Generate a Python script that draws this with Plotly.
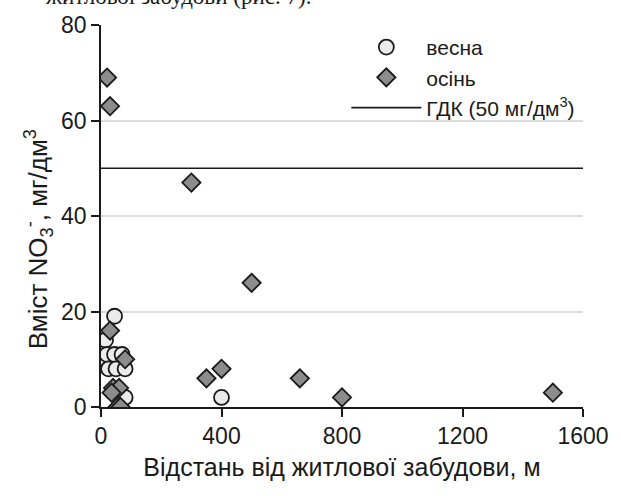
import plotly.graph_objects as go

spring_x = [15, 45, 20, 45, 70, 25, 50, 80, 80, 400]
spring_y = [14, 19, 11, 11, 11, 8, 8, 8, 2, 2]

autumn_x = [20, 30, 30, 80, 40, 60, 35, 55, 65, 300, 350, 400, 500, 660, 800, 1500]
autumn_y = [69, 63, 16, 10, 4, 4, 3, 0, 0, 47, 6, 8, 26, 6, 2, 3]

limit_x = [0, 1600]
limit_y = [50, 50]

x_ticks = [0, 400, 800, 1200, 1600]
y_ticks = [0, 20, 40, 60, 80]

FONT = "Liberation Sans, Arial, sans-serif"

fig = go.Figure()
fig.add_trace(go.Scatter(
    x=limit_x, y=limit_y, mode="lines", name="ГДК (50 мг/дм<sup>3</sup>)",
    line=dict(color="#1a1a1a", width=1.6), legendrank=3))
fig.add_trace(go.Scatter(
    x=spring_x, y=spring_y, mode="markers", name="весна",
    marker=dict(symbol="circle", size=15, color="#ebebeb",
                line=dict(color="#1a1a1a", width=1.8)), legendrank=1))
fig.add_trace(go.Scatter(
    x=autumn_x, y=autumn_y, mode="markers", name="осінь",
    marker=dict(symbol="diamond", size=14, color="#8c8c8c",
                line=dict(color="#1a1a1a", width=1.8)), legendrank=2))

fig.update_layout(
    width=621, height=496,
    margin=dict(l=101, r=35, t=21, b=89),
    paper_bgcolor="white", plot_bgcolor="white",
    font=dict(family=FONT, size=23, color="#1a1a1a"),
    showlegend=True,
    legend=dict(x=0.509, y=0.995, xanchor="left", yanchor="top",
                bgcolor="rgba(0,0,0,0)", font=dict(size=21),
                itemwidth=70, traceorder="normal"),
    xaxis=dict(range=[0, 1600], tickvals=x_ticks, ticks="outside", ticklen=8,
               tickwidth=1.5, tickcolor="#1a1a1a", showline=True,
               linecolor="#1a1a1a", linewidth=1.5, showgrid=False,
               zeroline=False, tickfont=dict(size=23),
               title=dict(text="Відстань від житлової забудови, м",
                          font=dict(size=25), standoff=10)),
    yaxis=dict(range=[0, 80], tickvals=y_ticks, ticks="outside", ticklen=8,
               tickwidth=1.5, tickcolor="#1a1a1a", showline=True,
               linecolor="#1a1a1a", linewidth=1.5, showgrid=True,
               gridcolor="#dcdcdc", gridwidth=2, zeroline=False,
               tickfont=dict(size=23)),
)

fig.add_annotation(
    text="Вміст NO<sub>3</sub><sup>-</sup>, мг/дм<sup>3</sup>",
    xref="paper", yref="paper", x=-0.13, y=0.44,
    xanchor="center", yanchor="middle", textangle=-90, showarrow=False,
    font=dict(family=FONT, size=26, color="#1a1a1a"))

fig.add_annotation(
    text="житлової забудови (рис. 7).", xref="paper", yref="paper",
    x=-0.12, y=1.036, xanchor="left", yanchor="bottom", showarrow=False,
    font=dict(family="Liberation Serif, Times New Roman, serif", size=23,
              color="#1a1a1a"))

fig.write_html("out.html", config={"displayModeBar": False},
               post_script="document.body.style.margin='0px';")
